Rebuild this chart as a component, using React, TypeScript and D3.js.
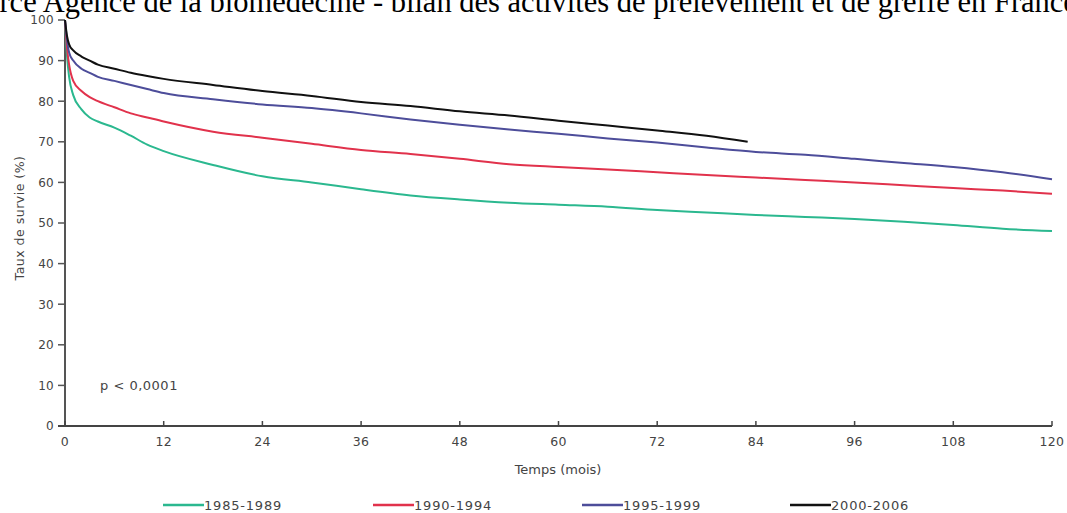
import React from "react";
import * as d3 from "d3";

const months = [0, 0.25, 0.5, 1, 2, 3, 4, 6, 8, 10, 12, 18, 24, 30, 36, 42, 48, 54, 60, 66, 72, 78, 84, 90, 96, 102, 108, 114, 120];
const s1985 = [100, 91, 86, 81.5, 78, 76, 75, 73.5, 71.5, 69.3, 67.7, 64.3, 61.5, 60, 58.3, 56.8, 55.8, 55, 54.5, 54, 53.2, 52.6, 52, 51.5, 51, 50.3, 49.5, 48.6, 48];
const s1990 = [100, 93, 89, 85, 82.5, 81, 80, 78.5, 77, 76, 75, 72.5, 71, 69.5, 68, 67, 65.8, 64.5, 63.8, 63.2, 62.5, 61.8, 61.2, 60.6, 60, 59.3, 58.6, 58, 57.2];
const s1995 = [100, 95, 92, 90, 88, 87, 86, 85, 84, 83, 82, 80.5, 79.2, 78.3, 77, 75.5, 74.2, 73, 72, 70.8, 69.8, 68.6, 67.5, 66.8, 65.8, 64.8, 63.8, 62.5, 60.8];
const months2000 = [0, 0.25, 0.5, 1, 2, 3, 4, 6, 8, 10, 12, 18, 24, 30, 36, 42, 48, 54, 60, 66, 72, 78, 83];
const s2000 = [100, 96, 94, 92.5, 91, 90, 89, 88, 87, 86.2, 85.5, 84, 82.5, 81.3, 79.8, 78.8, 77.5, 76.5, 75.2, 74, 72.8, 71.5, 70];

const seriesNames = ["1985-1989", "1990-1994", "1995-1999", "2000-2006"];
const seriesColors = ["#2bb88f", "#e1324c", "#4d4d9a", "#111111"];
const xTicks = [0, 12, 24, 36, 48, 60, 72, 84, 96, 108, 120];
const yTicks = [0, 10, 20, 30, 40, 50, 60, 70, 80, 90, 100];

const W = 1067;
const H = 513;

export default function App() {
  const x = d3.scaleLinear().domain([0, 120]).range([65, 1052]);
  const y = d3.scaleLinear().domain([0, 100]).range([426, 20]);
  const series = [
    { name: seriesNames[0], color: seriesColors[0], xs: months, ys: s1985 },
    { name: seriesNames[1], color: seriesColors[1], xs: months, ys: s1990 },
    { name: seriesNames[2], color: seriesColors[2], xs: months, ys: s1995 },
    { name: seriesNames[3], color: seriesColors[3], xs: months2000, ys: s2000 },
  ];
  const line = d3
    .line<[number, number]>()
    .x((d) => x(d[0]))
    .y((d) => y(d[1]))
    .curve(d3.curveMonotoneX);
  const sans = "'DejaVu Sans', Verdana, sans-serif";
  const legendX = [163, 373, 582, 790];

  return (
    <svg
      width={W}
      height={H}
      style={{ position: "absolute", left: 0, top: 0, background: "#fff" }}
    >
      <text
        x={-48}
        y={12}
        fontFamily="'Liberation Serif', 'Times New Roman', serif"
        fontSize={30.5}
        fill="#000"
      >
        Source Agence de la biomédecine - bilan des activités de prélèvement et de greffe en France 2007
      </text>

      {/* y axis */}
      <line x1={x(0)} x2={x(0)} y1={y(100)} y2={y(0)} stroke="#555" strokeWidth={2} />
      {yTicks.map((t) => (
        <g key={"y" + t}>
          <line x1={x(0) - 7} x2={x(0)} y1={y(t)} y2={y(t)} stroke="#555" strokeWidth={1.5} />
          <text
            x={x(0) - 11}
            y={y(t)}
            dy="0.36em"
            textAnchor="end"
            fontFamily={sans}
            fontSize={12}
            letterSpacing={0.3}
            fill="#444"
          >
            {t}
          </text>
        </g>
      ))}
      {/* x axis */}
      <line x1={x(0) - 7} x2={x(120)} y1={y(0)} y2={y(0)} stroke="#444" strokeWidth={2} />
      {xTicks.map((t) => (
        <g key={"x" + t}>
          <line x1={x(t)} x2={x(t)} y1={y(0)} y2={y(0) - 5} stroke="#444" strokeWidth={1.5} />
          <text
            x={x(t)}
            y={y(0) + 20}
            textAnchor="middle"
            fontFamily={sans}
            fontSize={12.5}
            letterSpacing={0.3}
            fill="#444"
          >
            {t}
          </text>
        </g>
      ))}

      <text
        transform={`translate(24, ${218}) rotate(-90)`}
        textAnchor="middle"
        fontFamily={sans}
        fontSize={12.5}
        letterSpacing={0.5}
        fill="#444"
      >
        Taux de survie (%)
      </text>
      <text x={558} y={474} textAnchor="middle" fontFamily={sans} fontSize={13} fill="#444">
        Temps (mois)
      </text>
      <text x={100} y={390} fontFamily={sans} fontSize={13} letterSpacing={0.5} fill="#444">
        p &lt; 0,0001
      </text>

      {series.map((s) => (
        <path
          key={s.name}
          d={line(s.xs.map((m, i) => [m, s.ys[i]] as [number, number])) || ""}
          fill="none"
          stroke={s.color}
          strokeWidth={2}
        />
      ))}

      {series.map((s, i) => (
        <g key={"lg" + s.name}>
          <line
            x1={legendX[i]}
            x2={legendX[i] + 41}
            y1={505}
            y2={505}
            stroke={s.color}
            strokeWidth={2.5}
          />
          <text
            x={legendX[i] + 41}
            y={510}
            fontFamily={sans}
            fontSize={13}
            letterSpacing={0.8}
            fill="#444"
          >
            {s.name}
          </text>
        </g>
      ))}
    </svg>
  );
}
